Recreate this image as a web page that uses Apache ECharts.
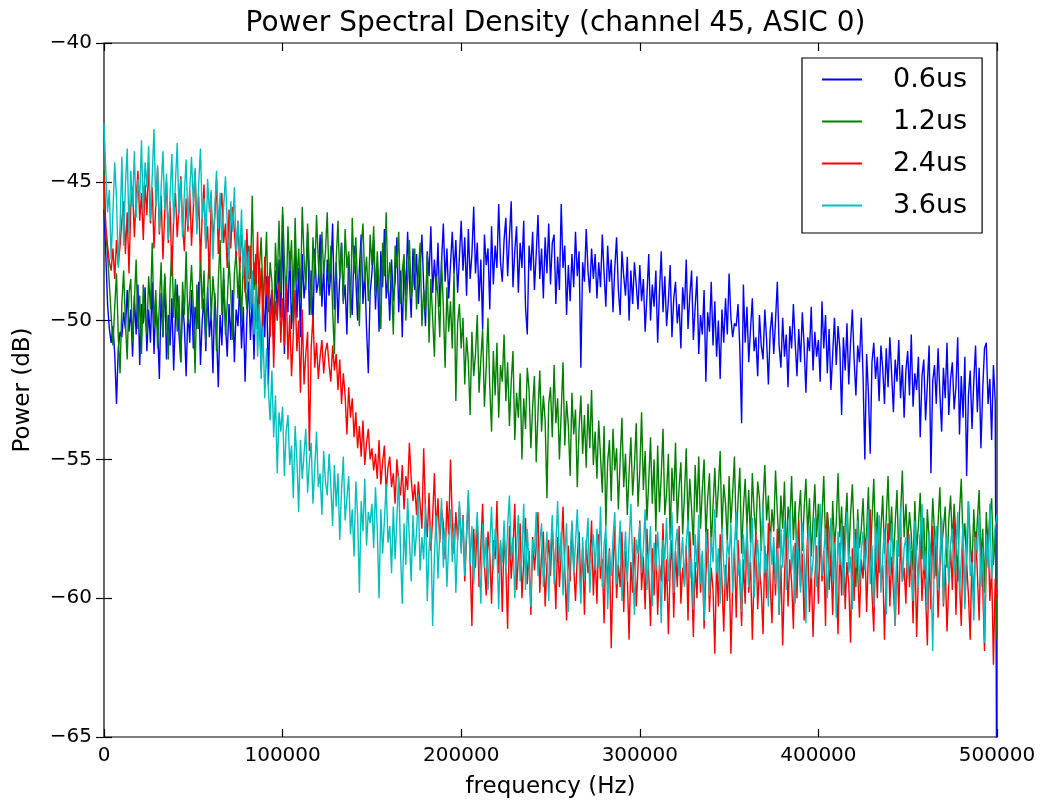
<!DOCTYPE html>
<html>
<head>
<meta charset="utf-8">
<title>Power Spectral Density</title>
<script src="https://cdn.jsdelivr.net/npm/echarts@6/dist/echarts.min.js"></script>
<style>
  html, body { margin: 0; padding: 0; background: #fff; }
  #chart { width: 1048px; height: 808px; }
</style>
</head>
<body>
<div id="chart"></div>
<script>
// Frequency grid: one bin every 1 kHz from 0 to 500 kHz (501 bins)
const F_START = 0;
const F_STEP = 1000;

const X_TICKS = [0, 100000, 200000, 300000, 400000, 500000];
const Y_TICKS = [-65, -60, -55, -50, -45, -40];

const SERIES_NAMES = ['0.6us', '1.2us', '2.4us', '3.6us'];
const SERIES_COLORS = ['#0000ff', '#008000', '#ff0000', '#00bfbf'];

// PSD in dB for each shaping time, 25 bins per row
const psd06 = [
  -46.0,-47.6,-49.4,-50.3,-50.8,-50.2,-51.2,-53.0,-51.0,-50.4,-50.6,-49.7,-50.3,-48.9,-50.4,-49.6,-51.3,-49.1,-50.5,-48.7,-51.6,-49.4,-50.1,-48.8,-51.1,
  -49.6,-50.8,-48.6,-51.2,-49.4,-50.2,-52.1,-49.0,-50.6,-48.4,-51.4,-49.8,-50.9,-49.2,-51.8,-49.9,-48.7,-50.5,-51.5,-49.3,-50.2,-52.0,-49.6,-50.8,-48.9,
  -51.0,-49.5,-50.3,-48.6,-51.6,-50.0,-49.2,-51.1,-48.8,-50.6,-49.7,-51.9,-49.0,-50.4,-52.4,-49.8,-50.9,-48.5,-50.1,-51.3,-49.4,-50.7,-48.9,-51.5,-49.6,
  -50.2,-48.7,-51.0,-49.5,-52.2,-49.9,-48.6,-50.7,-49.2,-51.4,-48.8,-50.3,-49.7,-51.8,-49.0,-50.6,-48.4,-52.3,-49.5,-48.9,-50.8,-48.2,-49.6,-47.8,-49.9,
  -46.2,-51.2,-48.4,-49.7,-47.5,-50.3,-48.8,-47.2,-49.9,-48.1,-50.6,-47.6,-49.2,-48.5,-46.8,-49.8,-48.2,-50.2,-47.4,-49.0,-48.6,-46.9,-49.5,-48.0,-50.4,
  -47.8,-49.1,-48.3,-46.5,-49.6,-47.9,-50.1,-48.4,-47.2,-49.3,-48.7,-50.5,-47.6,-48.9,-49.8,-47.3,-48.5,-50.0,-48.1,-46.9,-49.4,-48.2,-50.3,-51.9,-49.0,
  -48.3,-47.1,-49.6,-48.0,-50.4,-47.5,-48.8,-46.7,-49.2,-48.4,-50.0,-47.8,-49.3,-48.6,-47.0,-49.7,-48.2,-50.6,-47.9,-49.1,-46.8,-48.5,-49.9,-47.4,-48.9,
  -47.6,-49.4,-48.1,-46.9,-48.8,-50.2,-47.5,-48.4,-46.6,-49.0,-47.8,-48.9,-47.2,-49.5,-47.9,-46.5,-48.6,-47.4,-49.2,-48.0,-46.8,-48.3,-47.1,-49.0,-47.7,
  -46.4,-48.2,-47.0,-49.1,-46.7,-48.5,-47.6,-45.9,-48.3,-47.2,-49.3,-47.8,-50.3,-46.9,-48.0,-47.4,-49.6,-46.6,-48.7,-47.3,-48.1,-45.8,-47.9,-48.6,-47.1,
  -46.3,-48.4,-47.0,-45.7,-48.8,-47.5,-46.6,-49.0,-47.2,-48.1,-46.4,-49.5,-50.5,-47.3,-48.2,-46.8,-48.9,-47.6,-46.2,-48.5,-47.4,-49.2,-47.0,-48.3,-46.5,
  -48.7,-47.2,-46.9,-49.4,-47.7,-48.9,-45.8,-48.1,-47.3,-49.8,-48.0,-49.3,-47.6,-48.8,-46.8,-48.4,-47.5,-51.7,-47.9,-48.6,-46.7,-48.2,-49.0,-47.4,-48.5,
  -47.6,-49.2,-47.9,-48.8,-46.9,-48.3,-49.5,-47.3,-48.6,-47.8,-49.7,-48.1,-47.0,-48.9,-49.8,-47.5,-48.4,-49.1,-47.7,-50.0,-48.2,-49.4,-47.9,-48.7,-49.6,
  -48.0,-49.3,-48.5,-50.4,-49.1,-47.6,-50.0,-48.7,-49.5,-48.2,-50.8,-49.0,-47.5,-49.7,-48.4,-50.2,-49.3,-48.0,-50.6,-49.2,-48.6,-50.1,-49.4,-51.0,-48.8,
  -49.6,-47.8,-50.3,-49.1,-48.2,-50.7,-49.5,-48.4,-51.2,-49.8,-50.5,-48.9,-52.2,-49.7,-50.4,-48.6,-50.9,-49.3,-51.3,-50.0,-52.1,-49.6,-50.8,-49.2,-50.5,
  -48.3,-49.9,-50.6,-50.1,-50.2,-49.4,-51.0,-53.7,-48.7,-50.8,-49.5,-51.5,-50.3,-49.2,-51.1,-50.6,-52.0,-49.8,-50.9,-51.4,-49.6,-50.7,-52.3,-50.4,-49.7,
  -51.2,-50.0,-48.6,-50.9,-51.7,-49.9,-51.3,-50.5,-52.4,-50.2,-51.0,-49.4,-50.8,-52.0,-50.3,-51.5,-49.7,-50.9,-52.6,-50.6,-51.1,-49.5,-51.8,-50.4,-51.3,
  -50.7,-52.2,-49.3,-51.0,-49.8,-51.9,-50.3,-52.5,-51.2,-49.9,-51.6,-50.2,-51.0,-53.4,-50.6,-51.8,-50.1,-52.3,-50.8,-49.6,-51.4,-52.7,-50.9,-51.5,-49.9,
  -52.0,-55.0,-51.2,-52.6,-54.8,-51.5,-50.8,-52.1,-51.3,-52.9,-50.9,-51.7,-53.0,-51.0,-52.4,-50.6,-51.9,-53.3,-51.4,-52.2,-50.7,-52.8,-51.6,-53.5,-51.8,
  -51.1,-52.7,-50.5,-53.1,-51.9,-52.5,-51.3,-54.2,-52.0,-51.4,-53.6,-52.3,-50.9,-55.5,-52.2,-51.6,-53.0,-51.0,-52.6,-54.0,-51.7,-52.8,-50.8,-53.4,-52.1,
  -51.5,-53.2,-52.4,-50.6,-54.1,-52.0,-53.5,-51.3,-55.6,-52.7,-51.8,-53.9,-52.2,-50.9,-53.3,-51.7,-54.6,-52.5,-51.0,-50.8,-53.0,-52.1,-54.3,-51.6,-52.9,
  -70.0
];

const psd12 = [
  -44.6,-46.9,-47.6,-48.7,-49.8,-50.9,-49.5,-48.3,-50.6,-51.9,-49.4,-48.2,-50.1,-51.4,-49.0,-48.5,-50.8,-49.3,-47.8,-50.3,-49.1,-51.2,-48.7,-49.9,-50.5,
  -48.4,-49.6,-47.2,-50.2,-48.9,-51.0,-49.4,-47.9,-50.6,-48.3,-49.7,-51.4,-48.8,-47.3,-49.9,-48.5,-50.4,-49.1,-51.5,-48.6,-49.8,-47.5,-50.1,-49.2,-48.0,
  -49.5,-51.9,-48.7,-50.3,-47.4,-49.6,-48.2,-50.8,-49.0,-47.6,-50.0,-48.4,-49.3,-51.1,-48.6,-47.1,-49.8,-48.1,-50.5,-49.4,-47.8,-49.0,-50.7,-48.3,-47.5,
  -49.2,-48.0,-50.1,-47.7,-48.8,-49.6,-47.3,-48.5,-45.5,-48.9,-47.6,-50.2,-48.1,-47.0,-49.3,-48.4,-46.8,-49.7,-47.9,-48.6,-50.4,-47.2,-48.7,-46.4,-49.0,
  -45.9,-47.8,-49.4,-46.6,-48.2,-47.1,-50.1,-46.3,-48.6,-47.4,-49.2,-45.9,-47.7,-48.9,-46.5,-48.1,-49.8,-47.0,-48.4,-46.2,-47.9,-49.1,-46.8,-48.3,-47.5,
  -46.1,-48.7,-47.3,-49.6,-51.2,-47.8,-46.4,-48.5,-47.2,-49.4,-46.7,-48.1,-47.5,-49.9,-46.3,-48.3,-47.0,-48.8,-50.2,-47.4,-46.5,-48.6,-47.7,-49.3,-46.9,
  -48.0,-46.6,-49.1,-47.5,-48.8,-50.3,-47.2,-48.4,-46.1,-49.0,-47.9,-48.6,-50.5,-47.3,-48.1,-46.8,-49.4,-48.2,-47.6,-50.0,-48.5,-47.1,-49.2,-48.7,-47.4,
  -49.6,-48.3,-47.2,-50.2,-48.9,-49.7,-47.6,-50.8,-48.5,-49.9,-51.3,-48.4,-49.1,-50.6,-47.8,-49.5,-51.7,-48.8,-50.4,-49.3,-51.0,-48.2,-52.9,-50.1,-49.4,
  -51.0,-49.9,-52.3,-50.6,-51.5,-53.4,-50.4,-52.0,-51.2,-49.8,-52.6,-51.4,-50.3,-53.1,-51.7,-49.9,-52.4,-54.0,-51.1,-52.7,-50.8,-53.5,-51.6,-52.2,-50.5,
  -52.9,-51.5,-53.8,-52.2,-51.1,-54.3,-52.6,-53.5,-51.9,-55.0,-52.8,-53.9,-51.7,-52.5,-54.6,-53.1,-52.0,-55.1,-53.3,-51.8,-54.0,-52.7,-53.6,-56.4,-53.0,
  -52.4,-54.2,-51.6,-53.7,-52.8,-55.0,-53.3,-51.5,-54.5,-52.9,-53.8,-55.6,-52.6,-54.1,-53.2,-56.0,-53.9,-52.7,-54.8,-53.4,-55.3,-53.0,-54.6,-52.5,-55.2,
  -54.0,-55.7,-53.6,-54.9,-56.2,-53.8,-57.4,-55.1,-54.3,-56.5,-53.9,-55.4,-54.6,-56.8,-55.0,-53.5,-56.0,-54.8,-57.0,-55.5,-54.2,-56.3,-55.2,-53.7,-56.7,
  -55.4,-53.3,-56.1,-54.7,-57.2,-55.8,-54.2,-56.6,-55.0,-57.6,-54.5,-56.9,-55.6,-53.9,-57.0,-56.2,-54.8,-57.9,-55.3,-56.5,-54.4,-57.3,-56.0,-55.1,-57.7,
  -56.3,-54.6,-57.4,-55.7,-56.8,-58.1,-55.2,-56.9,-54.9,-57.5,-56.1,-55.0,-57.8,-56.4,-55.5,-58.2,-56.7,-55.3,-57.1,-56.0,-54.7,-57.6,-55.9,-56.6,-58.0,
  -55.6,-57.3,-56.2,-54.9,-57.9,-56.5,-55.3,-58.4,-56.8,-55.7,-57.4,-56.1,-58.0,-55.5,-56.9,-57.7,-55.8,-56.4,-58.3,-56.6,-55.2,-57.2,-56.3,-58.1,-56.8,
  -57.6,-55.4,-56.9,-58.2,-56.3,-57.5,-55.8,-58.6,-56.7,-57.3,-55.6,-57.9,-56.5,-58.8,-57.0,-56.1,-58.3,-56.8,-55.7,-57.7,-56.4,-58.5,-57.2,-55.9,-57.8,
  -56.6,-58.4,-57.1,-55.6,-58.0,-56.9,-57.6,-59.2,-56.5,-58.1,-57.3,-55.5,-57.8,-56.7,-58.9,-57.4,-56.2,-58.6,-57.0,-55.9,-57.7,-59.6,-56.8,-58.2,-57.5,
  -56.4,-58.3,-57.6,-56.0,-58.7,-57.2,-55.7,-58.0,-56.9,-59.1,-57.5,-56.3,-58.4,-57.1,-55.6,-57.9,-56.7,-58.8,-57.3,-56.1,-58.5,-57.0,-55.4,-57.8,-56.6,
  -58.1,-56.9,-57.7,-59.0,-56.5,-58.3,-57.4,-56.2,-58.6,-57.1,-59.3,-56.8,-57.9,-58.5,-56.4,-57.6,-59.2,-57.3,-56.0,-58.2,-57.5,-56.7,-58.9,-57.2,-56.3,
  -58.0,-56.6,-57.8,-59.4,-56.9,-55.7,-58.1,-57.3,-58.7,-56.5,-57.9,-59.0,-56.8,-58.4,-57.2,-56.1,-58.6,-57.5,-59.8,-56.9,-58.2,-57.0,-56.4,-58.8,-57.6,
  -61.5
];

const psd24 = [
  -44.8,-46.6,-47.3,-47.9,-48.2,-47.4,-48.5,-47.1,-48.0,-47.3,-46.4,-45.7,-47.6,-46.1,-48.3,-45.9,-45.2,-47.0,-45.6,-44.6,-46.4,-45.4,-47.1,-45.1,-46.2,
  -44.3,-46.5,-45.2,-47.4,-45.8,-44.5,-46.9,-45.5,-47.8,-46.1,-45.0,-47.2,-45.7,-48.4,-46.3,-45.4,-47.0,-45.9,-44.8,-46.6,-47.5,-45.6,-46.8,-45.3,-47.3,
  -46.0,-44.6,-46.7,-45.5,-47.9,-46.2,-45.1,-47.4,-46.6,-48.5,-45.8,-47.0,-46.3,-44.9,-47.6,-46.1,-45.4,-47.2,-46.5,-48.1,-46.0,-47.4,-45.9,-46.8,-47.7,
  -46.4,-48.2,-46.9,-47.6,-49.0,-46.7,-48.5,-47.3,-49.4,-47.9,-48.8,-46.8,-49.6,-48.1,-50.2,-47.7,-49.1,-48.4,-50.6,-48.9,-51.7,-49.3,-50.0,-48.6,-50.8,
  -49.2,-50.9,-48.7,-51.4,-49.8,-52.0,-50.5,-48.9,-51.1,-50.0,-52.6,-49.6,-52.3,-51.2,-50.4,-54.7,-51.0,-49.8,-51.7,-50.8,-52.1,-51.3,-50.7,-51.9,-51.1,
  -50.8,-51.6,-52.2,-50.9,-51.8,-51.2,-52.5,-51.4,-53.0,-51.9,-52.7,-54.1,-52.4,-53.5,-52.8,-54.2,-53.3,-54.6,-53.8,-54.9,-53.6,-55.2,-54.4,-53.9,-55.0,
  -54.6,-55.4,-54.8,-55.7,-54.3,-55.9,-55.1,-54.5,-56.2,-55.3,-54.9,-56.0,-55.5,-56.6,-55.0,-55.8,-56.3,-55.2,-56.8,-55.6,-56.1,-54.4,-55.7,-56.5,-55.9,
  -57.0,-55.8,-56.6,-57.5,-54.6,-56.9,-57.8,-56.2,-58.3,-57.1,-55.5,-57.6,-56.4,-58.0,-56.8,-57.3,-58.6,-56.5,-57.7,-55.0,-57.2,-58.4,-56.9,-57.9,-56.7,
  -58.2,-57.0,-59.4,-57.8,-56.3,-58.7,-61.0,-57.5,-58.9,-57.2,-59.6,-58.1,-56.6,-58.8,-59.9,-57.6,-58.4,-60.2,-57.9,-58.6,-56.5,-59.1,-58.0,-60.5,-57.7,
  -58.9,-61.1,-57.4,-59.3,-58.2,-56.6,-59.7,-58.5,-57.3,-60.0,-58.7,-57.1,-59.5,-58.3,-60.6,-57.8,-59.0,-58.1,-56.9,-59.8,-58.4,-57.6,-60.3,-58.8,-57.9,
  -59.2,-57.5,-58.6,-60.4,-57.8,-59.6,-58.3,-56.7,-59.0,-60.8,-58.1,-59.4,-57.3,-58.9,-60.1,-58.5,-57.6,-59.7,-58.2,-60.6,-57.9,-59.1,-58.7,-57.2,-59.9,
  -58.4,-60.2,-57.7,-59.3,-58.6,-60.9,-57.9,-59.5,-58.2,-61.8,-59.0,-57.4,-60.0,-58.8,-59.6,-57.6,-60.5,-58.3,-59.2,-61.5,-58.7,-59.8,-57.8,-60.3,-58.9,
  -57.2,-59.7,-58.5,-60.4,-57.5,-59.1,-61.0,-58.2,-59.9,-57.7,-60.6,-58.8,-59.4,-57.3,-60.1,-58.6,-61.3,-59.0,-57.9,-60.7,-58.3,-59.6,-57.4,-60.2,-58.9,
  -59.5,-58.1,-60.8,-57.6,-59.3,-61.4,-58.7,-60.0,-57.8,-59.8,-58.4,-61.1,-59.2,-57.5,-60.5,-58.9,-59.7,-62.0,-58.6,-60.3,-57.7,-59.4,-61.2,-58.8,-60.1,
  -58.5,-62.0,-59.6,-58.2,-60.7,-57.9,-59.3,-61.0,-58.6,-60.2,-57.4,-59.8,-58.7,-61.5,-59.1,-57.6,-60.4,-58.9,-59.7,-61.3,-58.1,-60.0,-57.3,-59.5,-60.9,
  -58.3,-59.9,-57.5,-60.6,-58.8,-61.7,-59.2,-57.8,-60.3,-58.6,-59.4,-61.1,-58.0,-60.0,-57.2,-59.6,-58.4,-60.8,-59.1,-57.7,-60.5,-58.9,-61.4,-59.3,-58.1,
  -60.2,-57.6,-59.4,-58.3,-61.0,-56.9,-59.7,-58.5,-60.6,-57.8,-59.2,-61.3,-58.0,-59.9,-57.4,-60.4,-58.7,-59.5,-61.6,-58.2,-60.1,-57.5,-59.0,-60.7,-58.6,
  -59.3,-57.9,-60.5,-58.4,-56.8,-59.8,-61.2,-58.1,-60.0,-57.6,-59.5,-58.8,-61.5,-59.1,-57.3,-60.3,-58.5,-59.7,-61.0,-58.2,-60.6,-57.8,-59.4,-58.9,-60.2,
  -57.5,-59.6,-58.3,-60.9,-58.0,-61.4,-59.2,-57.7,-60.1,-58.6,-59.8,-61.7,-58.4,-60.4,-57.4,-59.3,-58.1,-60.7,-59.0,-57.2,-60.3,-58.8,-61.2,-59.5,-58.2,
  -59.7,-57.1,-60.6,-58.5,-59.4,-61.0,-57.9,-60.2,-58.7,-59.9,-61.5,-58.3,-60.4,-57.6,-59.1,-60.8,-58.0,-59.6,-61.9,-58.6,-57.5,-60.1,-58.9,-62.4,-59.3,
  -60.0
];

const psd36 = [
  -42.9,-44.6,-46.1,-45.3,-47.8,-46.1,-44.3,-45.6,-48.1,-46.6,-44.1,-47.3,-45.1,-43.8,-46.9,-44.6,-45.9,-43.9,-46.3,-44.9,-45.6,-43.5,-46.1,-44.3,-45.2,
  -43.7,-46.4,-44.8,-43.1,-45.9,-44.4,-46.8,-45.2,-43.9,-46.0,-44.7,-47.1,-45.5,-44.0,-46.5,-45.0,-43.6,-46.2,-44.9,-47.0,-45.4,-44.2,-46.6,-45.3,-44.1,
  -45.8,-44.5,-46.9,-45.1,-43.8,-46.3,-45.6,-47.4,-44.9,-46.1,-45.3,-47.8,-46.0,-44.6,-46.7,-45.4,-47.2,-45.9,-44.8,-46.5,-47.9,-45.7,-46.8,-45.2,-47.5,
  -46.4,-47.7,-46.0,-48.4,-47.1,-48.9,-47.5,-49.6,-48.2,-50.5,-48.7,-51.3,-49.4,-52.1,-50.2,-52.8,-51.0,-52.4,-53.6,-51.8,-54.2,-52.7,-55.5,-53.3,-54.0,
  -53.1,-55.6,-54.0,-53.4,-55.2,-54.5,-56.4,-53.8,-55.0,-56.9,-54.3,-55.7,-54.8,-53.9,-56.2,-55.1,-54.4,-56.6,-55.3,-54.0,-56.0,-55.5,-57.0,-54.7,-55.8,
  -56.3,-54.8,-55.9,-57.4,-55.2,-56.7,-55.5,-57.9,-56.1,-54.9,-57.2,-56.4,-55.6,-57.7,-56.8,-58.5,-55.8,-57.0,-59.8,-56.5,-57.6,-55.7,-58.1,-56.9,-57.3,
  -56.6,-58.2,-56.0,-57.5,-60.0,-56.8,-58.4,-57.2,-55.9,-58.0,-57.4,-59.1,-56.7,-58.6,-57.1,-55.6,-58.3,-60.2,-57.3,-58.8,-56.4,-57.9,-59.4,-57.0,-58.5,
  -57.6,-56.3,-59.0,-57.8,-58.6,-56.6,-60.1,-58.2,-57.4,-61.0,-58.5,-57.0,-59.3,-57.7,-56.4,-58.9,-57.5,-59.6,-58.0,-56.8,-58.7,-57.3,-59.8,-57.9,-56.5,
  -58.4,-57.1,-59.2,-57.6,-56.1,-58.8,-57.4,-59.5,-58.0,-56.9,-58.6,-60.2,-57.3,-58.9,-57.8,-59.7,-58.1,-56.7,-59.0,-57.5,-58.3,-60.4,-57.9,-58.7,-57.2,
  -59.1,-57.4,-56.3,-58.6,-57.8,-60.0,-58.2,-57.0,-59.4,-58.5,-56.6,-59.7,-57.5,-58.9,-60.3,-57.9,-58.4,-56.9,-59.2,-58.0,-57.3,-59.6,-58.7,-57.6,-60.1,
  -58.3,-57.0,-59.5,-58.1,-56.5,-58.8,-57.6,-59.9,-58.4,-57.3,-60.5,-58.6,-57.2,-59.1,-58.0,-56.8,-58.7,-60.2,-57.8,-59.3,-58.2,-57.1,-59.8,-58.5,-57.7,
  -59.0,-57.5,-58.9,-56.7,-59.6,-58.1,-57.4,-60.4,-58.3,-59.2,-57.8,-56.9,-59.5,-58.6,-57.2,-60.1,-58.8,-57.6,-59.4,-58.0,-56.6,-58.7,-60.6,-57.9,-58.4,
  -57.3,-59.1,-58.2,-56.8,-59.7,-58.5,-57.4,-60.3,-58.0,-59.0,-57.6,-58.8,-60.9,-57.9,-58.6,-57.1,-59.4,-58.3,-56.9,-59.8,-58.1,-57.5,-59.2,-58.7,-57.8,
  -59.6,-58.0,-57.2,-59.3,-58.6,-60.4,-57.7,-58.9,-57.0,-59.5,-58.3,-60.8,-57.6,-58.4,-59.9,-57.8,-58.7,-56.8,-59.1,-58.2,-60.2,-57.5,-58.8,-59.7,-57.9,
  -58.5,-57.3,-59.8,-58.1,-56.9,-59.2,-58.6,-60.5,-57.7,-58.9,-57.4,-59.6,-58.3,-57.1,-60.0,-58.7,-57.9,-59.4,-58.0,-56.7,-59.1,-58.4,-60.3,-57.6,-58.8,
  -57.8,-59.5,-58.2,-60.6,-57.5,-58.9,-57.2,-59.7,-58.4,-56.8,-59.0,-58.1,-60.2,-57.7,-58.6,-59.8,-57.3,-58.5,-60.9,-58.0,-57.4,-59.3,-58.7,-57.1,-59.6,
  -58.1,-56.6,-59.2,-58.4,-57.5,-60.0,-58.6,-57.1,-59.4,-58.0,-60.7,-57.6,-58.8,-57.3,-59.9,-58.2,-56.9,-59.1,-58.5,-60.4,-57.7,-58.9,-57.2,-59.6,-58.3,
  -57.6,-59.0,-58.3,-56.8,-59.5,-58.1,-60.3,-57.4,-58.7,-57.0,-59.8,-58.4,-57.5,-60.6,-58.0,-59.2,-57.3,-58.6,-61.0,-57.9,-58.5,-56.7,-59.4,-58.2,-57.8,
  -59.3,-57.7,-58.8,-60.1,-57.2,-58.5,-59.6,-57.9,-56.6,-59.0,-58.3,-60.5,-57.6,-58.9,-61.9,-58.1,-57.4,-59.7,-58.6,-57.1,-60.2,-58.4,-57.8,-59.5,-58.0,
  -57.5,-59.1,-58.3,-56.9,-59.8,-58.6,-57.3,-60.4,-58.0,-56.5,-59.2,-58.7,-60.8,-57.8,-58.4,-57.0,-59.6,-58.2,-61.6,-57.7,-58.9,-56.6,-59.3,-58.1,-57.4,
  -57.0
];

const SERIES_VALUES = [psd06, psd12, psd24, psd36];

const FONT = "'DejaVu Sans', 'Liberation Sans', sans-serif";
const GRID = { left: 104, right: 51, top: 43, bottom: 71 };

// Pair each bin's frequency with its PSD value
function toPoints(values) {
  return values.map((v, i) => [F_START + i * F_STEP, v]);
}

function fmtTick(v) {
  return v < 0 ? '\u2212' + Math.abs(v) : String(v);
}

const xMin = X_TICKS[0], xMax = X_TICKS[X_TICKS.length - 1];
const xInt = X_TICKS[1] - X_TICKS[0];
const yMin = Y_TICKS[0], yMax = Y_TICKS[Y_TICKS.length - 1];
const yInt = Y_TICKS[1] - Y_TICKS[0];

const tickStyle = { show: true, inside: true, length: 8, lineStyle: { color: '#000', width: 1.2 } };

const chart = echarts.init(document.getElementById('chart'), null, { renderer: 'canvas' });

chart.setOption({
  backgroundColor: '#ffffff',
  animation: false,
  title: {
    text: 'Power Spectral Density (channel 45, ASIC 0)',
    left: GRID.left + (1048 - GRID.left - GRID.right) / 2,
    textAlign: 'center',
    top: 5,
    textStyle: { fontFamily: FONT, fontSize: 28, fontWeight: 'normal', color: '#000' }
  },
  legend: {
    orient: 'vertical',
    left: 802,
    top: 58,
    padding: [6, 15, 12, 20],
    itemGap: 11,
    itemWidth: 40,
    itemHeight: 2,
    icon: 'rect',
    borderColor: '#000',
    borderWidth: 1.2,
    backgroundColor: '#fff',
    data: SERIES_NAMES,
    textStyle: {
      fontFamily: FONT, fontSize: 27, color: '#000',
      lineHeight: 31,
      padding: [0, 0, 0, 26]
    }
  },
  grid: {
    left: GRID.left, right: GRID.right, top: GRID.top, bottom: GRID.bottom,
    show: true, borderColor: '#000', borderWidth: 1.2, backgroundColor: '#fff'
  },
  xAxis: [
    {
      type: 'value', position: 'bottom', min: xMin, max: xMax, interval: xInt,
      name: 'frequency (Hz)', nameLocation: 'middle', nameGap: 39,
      nameTextStyle: { fontFamily: FONT, fontSize: 23, color: '#000' },
      axisLine: { show: false },
      axisTick: tickStyle,
      splitLine: { show: false },
      axisLabel: { fontFamily: FONT, fontSize: 20, color: '#000', margin: 9, formatter: fmtTick }
    },
    {
      type: 'value', position: 'top', min: xMin, max: xMax, interval: xInt,
      axisLine: { show: false }, axisTick: tickStyle,
      splitLine: { show: false }, axisLabel: { show: false }
    }
  ],
  yAxis: [
    {
      type: 'value', position: 'left', min: yMin, max: yMax, interval: yInt,
      name: 'Power (dB)', nameLocation: 'middle', nameGap: 69,
      nameTextStyle: { fontFamily: FONT, fontSize: 23, color: '#000' },
      axisLine: { show: false },
      axisTick: tickStyle,
      splitLine: { show: false },
      axisLabel: { fontFamily: FONT, fontSize: 20, color: '#000', margin: 12, formatter: fmtTick }
    },
    {
      type: 'value', position: 'right', min: yMin, max: yMax, interval: yInt,
      axisLine: { show: false }, axisTick: tickStyle,
      splitLine: { show: false }, axisLabel: { show: false }
    }
  ],
  series: SERIES_NAMES.map((name, k) => ({
    name: name,
    type: 'line',
    xAxisIndex: 0,
    yAxisIndex: 0,
    data: toPoints(SERIES_VALUES[k]),
    showSymbol: false,
    symbol: 'none',
    clip: true,
    color: SERIES_COLORS[k],
    lineStyle: { color: SERIES_COLORS[k], width: 1.4 },
    emphasis: { disabled: true },
    z: 2 + k
  }))
});
</script>
</body>
</html>
